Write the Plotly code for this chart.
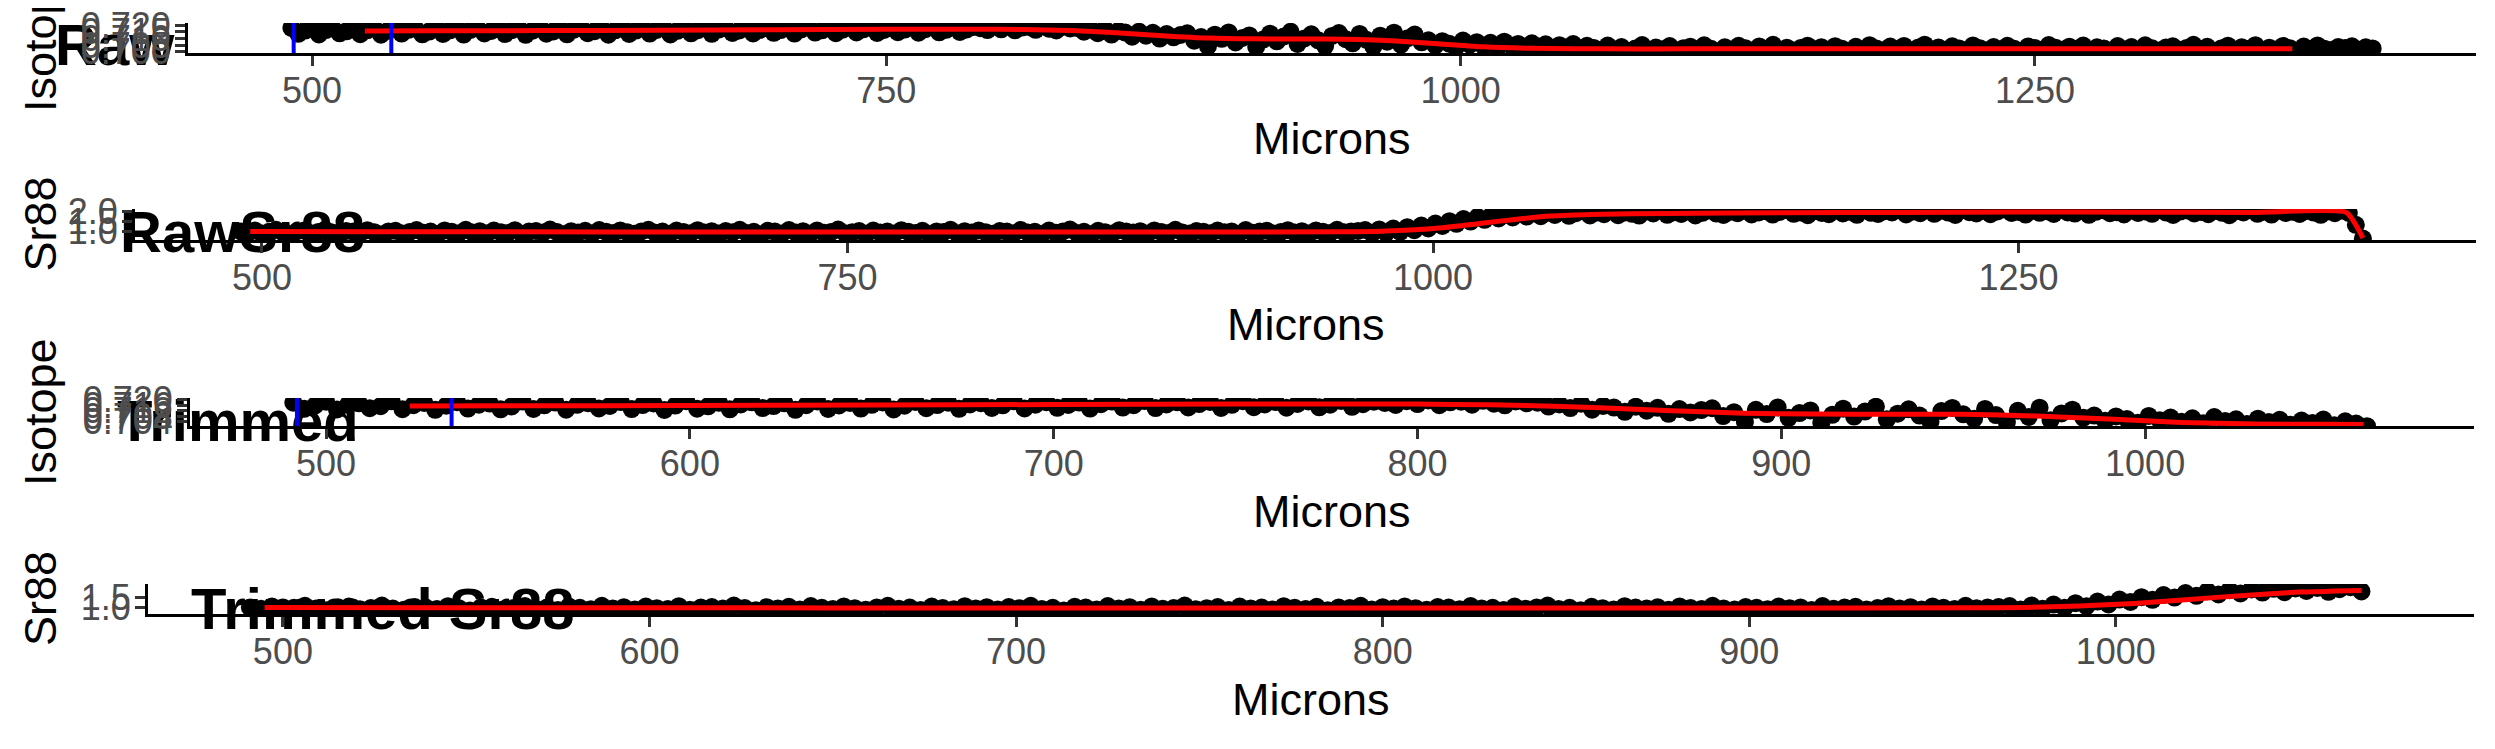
import plotly.graph_objects as go

W, H = 2495, 749
OFF = 8  # page body margin of the html page
FW, FH = W - OFF, H - OFF

# ---------------- data ----------------
raw_microns = list(range(491, 1398, 3))

iso_raw = [
    0.7178, 0.7134, 0.7158, 0.7185, 0.7129, 0.7162, 0.7174, 0.7138, 0.7153, 0.7188,
    0.7131, 0.7160, 0.7176, 0.7127, 0.7156, 0.7182, 0.7136, 0.7164, 0.7172, 0.7130,
    0.7151, 0.7186, 0.7133, 0.7159, 0.7179, 0.7128, 0.7163, 0.7175, 0.7137, 0.7155,
    0.7183, 0.7132, 0.7161, 0.7173, 0.7126, 0.7157, 0.7189, 0.7135, 0.7152, 0.7177,
    0.7130, 0.7165, 0.7181, 0.7139, 0.7154, 0.7174, 0.7127, 0.7160, 0.7187, 0.7133,
    0.7158, 0.7176, 0.7136, 0.7163, 0.7180, 0.7129, 0.7156, 0.7184, 0.7138, 0.7161,
    0.7178, 0.7134, 0.7166, 0.7175, 0.7140, 0.7159, 0.7188, 0.7137, 0.7164, 0.7182,
    0.7141, 0.7162, 0.7179, 0.7136, 0.7167, 0.7186, 0.7143, 0.7160, 0.7190, 0.7139,
    0.7165, 0.7181, 0.7144, 0.7168, 0.7184, 0.7140, 0.7163, 0.7189, 0.7146, 0.7166,
    0.7183, 0.7142, 0.7169, 0.7187, 0.7145, 0.7164, 0.7191, 0.7148, 0.7167, 0.7185,
    0.7176, 0.7162, 0.7189, 0.7168, 0.7194, 0.7160, 0.7181, 0.7185, 0.7164, 0.7192,
    0.7171, 0.7159, 0.7187, 0.7174,
    0.7178, 0.7150, 0.7166, 0.7139, 0.7171, 0.7128, 0.7155, 0.7143, 0.7112, 0.7149,
    0.7120, 0.7141, 0.7098, 0.7132, 0.7108, 0.7125,
    0.7138, 0.7082, 0.7110, 0.7041, 0.7127, 0.7096, 0.7144, 0.7069, 0.7103, 0.7122,
    0.7036, 0.7091, 0.7135, 0.7078, 0.7114, 0.7149, 0.7058, 0.7099, 0.7130, 0.7085,
    0.7042, 0.7118, 0.7140, 0.7094,
    0.7063, 0.7133, 0.7089, 0.7038, 0.7120, 0.7075, 0.7142, 0.7052, 0.7101, 0.7128,
    0.7070,
    0.7085, 0.7048, 0.7079, 0.7060, 0.7034, 0.7083, 0.7052, 0.7071, 0.7041, 0.7066,
    0.7029, 0.7075, 0.7046, 0.7058, 0.7024, 0.7063, 0.7038, 0.7055, 0.7019, 0.7049,
    0.7031, 0.7057, 0.7015, 0.7044,
    0.7028, 0.7009, 0.7046, 0.7017, 0.7035, 0.7004, 0.7023, 0.7050, 0.7012, 0.7031,
    0.7019, 0.7042, 0.7006, 0.7026, 0.7037, 0.7014, 0.7048, 0.7021, 0.7002, 0.7033,
    0.7016, 0.7044, 0.7025, 0.7008, 0.7039, 0.7020, 0.7051, 0.7013, 0.7030, 0.7005,
    0.7027, 0.7045, 0.7018, 0.7034, 0.7010, 0.7041, 0.7022, 0.7003, 0.7036, 0.7015,
    0.7049, 0.7024, 0.7011, 0.7038, 0.7019, 0.7043, 0.7007, 0.7029, 0.7052, 0.7016,
    0.7032, 0.7001, 0.7040, 0.7023, 0.7012, 0.7047, 0.7026, 0.7009, 0.7035, 0.7018,
    0.7044, 0.7021, 0.7005, 0.7039, 0.7027, 0.7014, 0.7050, 0.7030, 0.7008, 0.7037,
    0.7020, 0.7046, 0.7013, 0.7033, 0.7024, 0.7002, 0.7042, 0.7017, 0.7035, 0.7010,
    0.7048, 0.7025, 0.7006, 0.7031, 0.7040, 0.7015, 0.7028, 0.7051, 0.7019, 0.7036,
    0.7004, 0.7023, 0.7045, 0.7011, 0.7034, 0.7021, 0.7049, 0.7008, 0.7030, 0.7016,
    0.7043, 0.7026, 0.7003, 0.7038, 0.7018, 0.7047, 0.7022, 0.7012, 0.7035, 0.7027,
    0.7040, 0.7015, 0.7033, 0.7024,
]

sr88_raw = [
    0.98, 0.91, 1.03, 0.87, 0.96, 1.06, 0.93, 0.84, 0.99, 1.02,
    0.89, 0.95, 1.07, 0.92, 0.86, 1.00, 0.97, 0.90, 1.04, 0.94,
    0.83, 0.98, 1.01, 0.88, 0.95, 1.05, 0.91, 0.97, 0.85, 1.03,
    0.96, 0.89, 1.06, 0.93, 0.99, 0.87, 1.02, 0.94, 0.90, 1.04,
    0.86, 0.97, 1.00, 0.92, 1.07, 0.95, 0.84, 0.99, 0.93, 1.01,
    0.88, 1.05, 0.96, 0.90, 1.03, 0.94, 0.86, 0.98, 1.06, 0.91,
    0.97, 0.85, 1.02, 0.95, 0.89, 1.04, 0.92, 0.99, 0.87, 1.00,
    0.94, 1.06, 0.90, 0.96, 0.83, 1.01, 0.97, 0.88, 1.05, 0.93,
    0.99, 0.86, 1.03, 0.91, 0.95, 1.07, 0.89, 0.94, 1.00, 0.85,
    1.02, 0.93, 0.97, 0.88, 1.04, 0.96, 0.90, 1.01, 0.84, 0.98,
    0.95, 1.06, 0.87, 0.99, 0.92, 1.03, 0.94, 0.86, 1.00, 0.97,
    0.89, 1.05, 0.93, 0.96, 0.85, 1.02, 0.91, 0.98, 1.07, 0.90,
    0.96, 0.84, 1.01, 0.94, 0.88, 1.04, 0.97, 0.92, 0.99, 0.86,
    1.03, 0.95, 0.90, 1.06, 0.93, 0.87, 1.00, 0.96, 0.89, 1.02,
    0.94, 0.98, 0.85, 1.05, 0.91, 0.97, 1.01, 0.88, 0.95, 1.04,
    0.92, 0.99, 0.87, 1.03, 0.96, 0.90, 1.06, 0.94, 0.98, 1.00,
    1.05, 0.88, 1.08, 0.91, 1.12, 0.96, 1.19, 1.04, 1.27, 1.13,
    1.37, 1.25, 1.49, 1.36, 1.60, 1.47, 1.70, 1.56, 1.79, 1.63,
    1.84, 1.68, 1.88, 1.72, 1.91, 1.74, 1.93,
    1.80, 1.95, 1.76, 1.89, 1.99, 1.78, 1.92, 1.84, 2.01, 1.79,
    1.93, 1.86, 1.77, 1.98, 1.88, 2.03, 1.81, 1.94, 1.85, 1.99,
    1.78, 1.91, 2.04, 1.87, 1.80, 1.96, 1.89, 2.02, 1.83, 1.93,
    1.99, 1.82, 1.95, 2.05, 1.86, 1.92, 1.79, 2.00, 1.90, 1.84,
    2.03, 1.88, 1.96, 1.81, 2.06, 1.91, 1.85, 1.99, 1.93, 2.04,
    1.83, 1.97, 1.89, 2.07, 1.86, 2.01, 1.92, 1.80, 2.05, 1.94,
    1.88, 2.02, 1.84, 1.98, 2.08, 1.90, 1.95, 1.82, 2.03, 1.91,
    1.99, 1.85, 2.06, 1.93, 1.87, 2.01, 1.81, 1.96, 2.04, 1.89,
    1.94, 1.83, 2.02, 1.90, 1.98, 1.86, 2.05, 1.92, 1.80, 1.97,
    2.03, 1.88, 1.95, 1.84, 2.01, 1.91, 1.79, 1.99, 1.93, 2.04,
    1.86, 1.97, 1.82, 2.02, 1.90, 1.96, 1.85, 2.00, 1.92, 1.81,
    1.98, 1.89, 2.03,
    1.90, 1.31, 0.62,
]

iso_trim_end_micron = 1062
sr_trim_end_micron = 1068

iso_smooth_microns = [523, 550, 600, 650, 700, 750, 790, 810, 830, 850, 870, 890, 910,
                      930, 950, 970, 990, 1010, 1030, 1050, 1060, 1100, 1200, 1300, 1362]
iso_smooth = [0.7155, 0.7156, 0.7158, 0.7161, 0.7165, 0.7168, 0.7169, 0.7166, 0.7158,
              0.7142, 0.7120, 0.7102, 0.7096, 0.7095, 0.7094, 0.7082, 0.7060, 0.7036,
              0.7025, 0.7022, 0.7021, 0.7021, 0.7021, 0.7021, 0.7021]

sr_smooth_microns = [495, 550, 600, 700, 800, 900, 960, 975, 990, 1005, 1020, 1035, 1050,
                     1060, 1067, 1100, 1150, 1200, 1250, 1300, 1350, 1390, 1394, 1397]
sr_smooth = [0.97, 0.96, 0.96, 0.95, 0.95, 0.95, 0.96, 0.98, 1.05, 1.18, 1.38, 1.58, 1.75,
             1.80, 1.83, 1.88, 1.91, 1.93, 1.95, 1.94, 1.93, 1.93, 1.30, 0.65]

blue_microns = [492, 534.5]

panel_titles = ["Raw", "RawSr88", "Trimmed", "Trimmed Sr88"]
y_titles = ["Isotope", "Sr88", "Isotope", "Sr88"]
x_title = "Microns"
x_ticks_raw = [500, 750, 1000, 1250]
x_ticks_trim = [500, 600, 700, 800, 900, 1000]
y_ticks_iso_raw = [0.700, 0.705, 0.710, 0.715, 0.720]
y_ticks_iso_trim = [0.704, 0.708, 0.712, 0.716, 0.720]
y_ticks_sr_raw = [1.0, 1.5, 2.0]
y_ticks_sr_trim = [1.0, 1.5]

# ---------------- trimmed subsets (raw cut at trim end) ----------------
def cut(xs, ys, lim):
    pairs = [(a, b) for a, b in zip(xs, ys) if a <= lim]
    return [p[0] for p in pairs], [p[1] for p in pairs]

iso_trim_microns, iso_trim = cut(raw_microns, iso_raw, iso_trim_end_micron)
sr_trim_microns, sr88_trim = cut(raw_microns, sr88_raw, sr_trim_end_micron)
iso_smooth_trim_x, iso_smooth_trim = cut(iso_smooth_microns, iso_smooth, iso_trim_end_micron)
sr_smooth_trim_x, sr_smooth_trim = cut(sr_smooth_microns, sr_smooth, sr_trim_end_micron)

# ---------------- layout geometry (page pixels) ----------------
panels = [
    dict(left=188, right=2476, top=23, bottom=53, xr=[446.0, 1442.0], yr=[0.6990, 0.7215],
         xt=x_ticks_raw, yt=y_ticks_iso_raw, fmt=".3f",
         x=raw_microns, y=iso_raw, sx=iso_smooth_microns, sy=iso_smooth, blue=True,
         title_x=55, title_y=50),
    dict(left=135, right=2476, top=209, bottom=240, xr=[445.8, 1445.3], yr=[0.55, 2.10],
         xt=x_ticks_raw, yt=y_ticks_sr_raw, fmt=".1f",
         x=raw_microns, y=sr88_raw, sx=sr_smooth_microns, sy=sr_smooth, blue=False,
         title_x=120, title_y=237),
    dict(left=190, right=2474, top=398, bottom=426, xr=[462.6, 1090.4], yr=[0.7010, 0.7212],
         xt=x_ticks_trim, yt=y_ticks_iso_trim, fmt=".3f",
         x=iso_trim_microns, y=iso_trim, sx=iso_smooth_trim_x, sy=iso_smooth_trim, blue=True,
         title_x=117, title_y=426),
    dict(left=148, right=2474, top=584, bottom=614, xr=[463.2, 1097.7], yr=[0.65, 2.15],
         xt=x_ticks_trim, yt=y_ticks_sr_trim, fmt=".1f",
         x=sr_trim_microns, y=sr88_trim, sx=sr_smooth_trim_x, sy=sr_smooth_trim, blue=False,
         title_x=191, title_y=614),
]


def px_x(v):
    return (v - OFF) / FW


def px_y(v):
    return 1 - (v - OFF) / FH


FONT = "Liberation Sans, Arial, Helvetica, sans-serif"
fig = go.Figure()

# full-page text layer (axis 1, drawn underneath the panels)
fig.add_trace(go.Scatter(
    x=[p["title_x"] for p in panels], y=[p["title_y"] for p in panels],
    text=panel_titles, mode="text", textposition="middle right",
    textfont=dict(family=FONT, size=58, color="black", weight="bold"),
    showlegend=False, hoverinfo="skip", xaxis="x", yaxis="y"))

layout = dict(
    width=FW, height=FH, margin=dict(l=0, r=0, t=0, b=0, pad=0, autoexpand=False),
    paper_bgcolor="white", plot_bgcolor="rgba(0,0,0,0)", showlegend=False,
    xaxis=dict(domain=[0, 1], range=[OFF, W], visible=False, fixedrange=True),
    yaxis=dict(domain=[0, 1], range=[H, OFF], visible=False, fixedrange=True),
)

annotations = []
shapes = []
for i, p in enumerate(panels):
    k = i + 2
    xa, ya = f"x{k}", f"y{k}"
    fig.add_trace(go.Scatter(x=p["x"], y=p["y"], mode="markers",
                             marker=dict(color="black", size=18, line=dict(width=0)),
                             xaxis=xa, yaxis=ya, showlegend=False, hoverinfo="skip"))
    fig.add_trace(go.Scatter(x=p["sx"], y=p["sy"], mode="lines",
                             line=dict(color="#FF0000", width=5, shape="spline", smoothing=0.6),
                             xaxis=xa, yaxis=ya, showlegend=False, hoverinfo="skip"))
    common = dict(showgrid=False, zeroline=False, showline=True, linecolor="black",
                  linewidth=3, ticks="outside", ticklen=10, tickwidth=2.5, tickcolor="#333333",
                  tickfont=dict(family=FONT, size=36, color="#4D4D4D"), fixedrange=True,
                  automargin=False, ticklabeloverflow="allow")
    layout[f"xaxis{k}"] = dict(domain=[px_x(p["left"]), px_x(p["right"])], anchor=ya,
                               range=p["xr"], tickmode="array", tickvals=p["xt"],
                               ticklabelstandoff=-6, **common)
    layout[f"yaxis{k}"] = dict(domain=[px_y(p["bottom"]), px_y(p["top"])], anchor=xa,
                               range=p["yr"], tickmode="array", tickvals=p["yt"],
                               tickformat=p["fmt"], ticklabelstandoff=-3, **common)
    cx = px_x((p["left"] + p["right"]) / 2)
    annotations.append(dict(text=x_title, x=cx, y=px_y(p["bottom"] + 85),
                            xref="paper", yref="paper", showarrow=False,
                            xanchor="center", yanchor="middle",
                            font=dict(family=FONT, size=45, color="black")))
    cy = px_y((p["top"] + p["bottom"]) / 2)
    annotations.append(dict(text=y_titles[i], x=px_x(40), y=cy, xref="paper", yref="paper",
                            showarrow=False, textangle=-90, xanchor="center",
                            yanchor="middle", font=dict(family=FONT, size=45, color="black")))
    if p["blue"]:
        for bx in blue_microns:
            shapes.append(dict(type="line", xref=xa, yref=f"{ya} domain", x0=bx, x1=bx,
                               y0=0, y1=1, line=dict(color="#0000FF", width=4),
                               layer="above"))

layout["annotations"] = annotations
layout["shapes"] = shapes
fig.update_layout(**layout)
fig.write_html("out.html")
